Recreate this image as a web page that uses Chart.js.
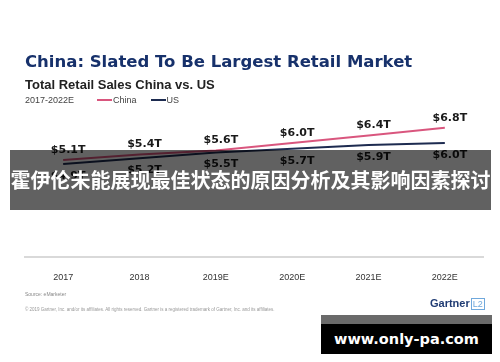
<!DOCTYPE html>
<html>
<head>
<meta charset="utf-8">
<script src="https://cdn.jsdelivr.net/npm/chart.js@4.4.0/dist/chart.umd.min.js"></script>
<style>
  html, body { margin: 0; padding: 0; background: #fff; }
  #wrap { position: relative; width: 500px; height: 362px; overflow: hidden; font-family: "Liberation Sans", Arial, sans-serif; }
  #chart { position: absolute; left: 0; top: 0; }
  .abs { position: absolute; white-space: nowrap; }
  #title { left: 25px; top: 52px; font-family: "DejaVu Sans", sans-serif; font-size: 16.5px; font-weight: bold; color: #17316b; }
  #subtitle { left: 25px; top: 77px; font-size: 13px; font-weight: bold; color: #222; }
  #period { left: 25px; top: 95px; font-size: 9px; color: #444; }
  #legend { left: 97px; top: 95px; font-size: 9px; color: #444; display: flex; }
  #legend span.item { display: flex; align-items: center; margin-right: 14px; }
  #legend span.sw { display: inline-block; width: 15px; height: 2px; margin-right: 1px; }
  #source { left: 25px; top: 291px; font-size: 5px; color: #888; }
  #copy { left: 25px; top: 307px; font-size: 4.5px; color: #999; }
  #logo { left: 430px; top: 297px; font-size: 11px; font-weight: bold; color: #1f3b73; }
  #logo b { font-weight: normal; color: #6fa8dc; border: 1px solid #6fa8dc; font-size: 9px; padding: 0 1px; margin-left: 1px; }
  #banner { left: 10px; top: 150px; width: 481px; height: 60px; background: rgba(0,0,0,0.62); color: #fff;
            font-family: "Noto Sans CJK SC", sans-serif; font-weight: bold; font-size: 20px; line-height: 60px; text-align: center; }
  #wmband { left: 321px; top: 315px; width: 171px; height: 9px; background: #6a6a6a; }
  #wm { left: 321px; top: 324px; width: 171px; height: 30px; background: #000; color: #fff;
        font-family: "DejaVu Sans", sans-serif; font-weight: bold; font-size: 14.5px; line-height: 30px; text-align: center; }
</style>
</head>
<body>
<div id="wrap">
  <canvas id="chart" width="500" height="362"></canvas>
  <div class="abs" id="title">China: Slated To Be Largest Retail Market</div>
  <div class="abs" id="subtitle">Total Retail Sales China vs. US</div>
  <div class="abs" id="period">2017-2022E</div>
  <div class="abs" id="legend"></div>
  <div class="abs" id="source">Source: eMarketer</div>
  <div class="abs" id="copy">© 2019 Gartner, Inc. and/or its affiliates. All rights reserved. Gartner is a registered trademark of Gartner, Inc. and its affiliates.</div>
  <div class="abs" id="logo">Gartner<b>L2</b></div>
  <div class="abs" id="banner">霍伊伦未能展现最佳状态的原因分析及其影响因素探讨</div>
  <div class="abs" id="wmband"></div>
  <div class="abs" id="wm">www.only-pa.com</div>
</div>
<script>
const years = ['2017', '2018', '2019E', '2020E', '2021E', '2022E'];
const china = [5.1, 5.4, 5.6, 6.0, 6.4, 6.8];
const us = [4.9, 5.2, 5.5, 5.7, 5.9, 6.0];

const pink = '#d9567e';
const navy = '#1d2b50';

// value labels: China above the line, US below
const valueLabels = {
    id: 'valueLabels',
    afterDatasetsDraw(chart) {
        const ctx = chart.ctx;
        ctx.save();
        ctx.font = 'bold 11px "DejaVu Sans", sans-serif';
        ctx.fillStyle = '#1a1a1a';
        ctx.textAlign = 'center';
        ctx.textBaseline = 'middle';
        chart.data.datasets.forEach(function (ds, i) {
            const off = i === 0 ? -10 : 12;
            chart.getDatasetMeta(i).data.forEach(function (pt, j) {
                ctx.fillText('$' + ds.data[j].toFixed(1) + 'T', pt.x + 5, pt.y + off);
            });
        });
        ctx.restore();
    }
};

const chart = new Chart(document.getElementById('chart'), {
    type: 'line',
    data: {
        labels: years,
        datasets: [
            { label: 'China', data: china, borderColor: pink, backgroundColor: pink, borderWidth: 2, pointRadius: 0, tension: 0 },
            { label: 'US', data: us, borderColor: navy, backgroundColor: navy, borderWidth: 2, pointRadius: 0, tension: 0 }
        ]
    },
    options: {
        responsive: false,
        animation: false,
        layout: { padding: { left: 25, right: 17, top: 105, bottom: 0 } },
        plugins: { legend: { display: false }, tooltip: { enabled: false } },
        scales: {
            x: {
                offset: true,
                grid: { display: false },
                border: { display: true, color: '#d9d9d9', width: 2 },
                ticks: { color: '#333', padding: 7, font: { family: '"Liberation Sans", Arial', size: 9 } },
                afterFit: function (s) { s.height = 105; }
            },
            y: { display: false, min: 0, max: 8 }
        }
    },
    plugins: [valueLabels]
});

// html legend from the datasets
const leg = document.getElementById('legend');
chart.data.datasets.forEach(function (ds) {
    const item = document.createElement('span');
    item.className = 'item';
    item.innerHTML = '<span class="sw" style="background:' + ds.borderColor + '"></span>' + ds.label;
    leg.appendChild(item);
});
</script>
</body>
</html>
